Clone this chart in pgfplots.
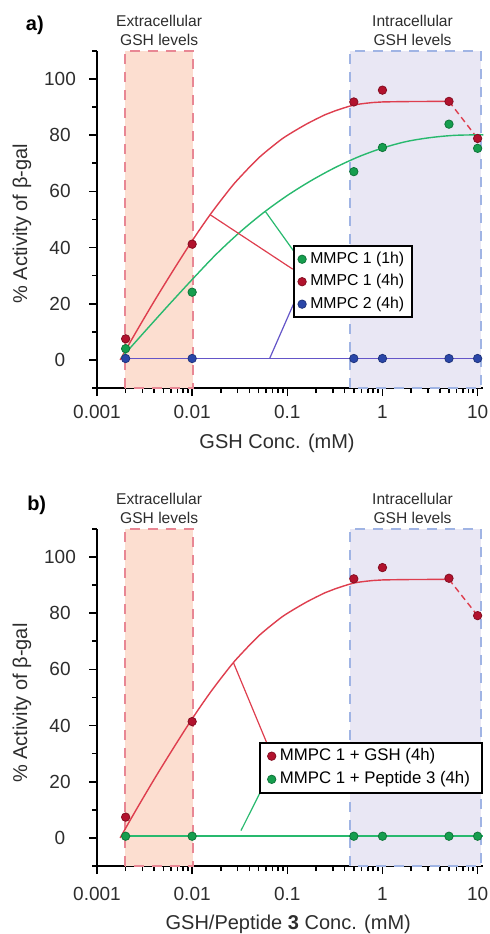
\documentclass[border=0pt]{standalone}
\usepackage{pgfplots}
\pgfplotsset{compat=1.18}
\usepackage{pgfplotstable}
\usepackage{fontspec}
\setmainfont{Liberation Sans}

\definecolor{redmk}{RGB}{178,18,45}
\definecolor{redln}{RGB}{222,62,78}
\definecolor{grnmk}{RGB}{22,158,78}
\definecolor{grnln}{RGB}{40,185,110}
\definecolor{blumk}{RGB}{42,70,168}
\definecolor{bluln}{RGB}{100,85,200}
\definecolor{extfill}{RGB}{252,222,208}
\definecolor{extedge}{RGB}{232,135,148}
\definecolor{intfill}{RGB}{233,231,244}
\definecolor{intedge}{RGB}{160,180,228}
\definecolor{txtgray}{RGB}{45,45,45}

% measured points
\pgfplotstableread{
x y
0.002 7.5
0.01 41.2
0.5 91.8
1 96
5 92
10 78.8
}\redpts
\pgfplotstableread{
x y
0.002 4
0.01 24.1
0.5 67
1 75.6
5 83.9
10 75.3
}\greenpts
\pgfplotstableread{
x y
0.002 0.5
0.01 0.5
0.5 0.5
1 0.5
5 0.5
10 0.5
}\bluepts

% fitted curves
\pgfplotstableread{
x y
0.00175 0
0.00251 9.3
0.00398 20.8
0.00631 31.8
0.01 42.4
0.01585 52.2
0.0251 61.0
0.0316 64.9
0.0501 71.9
0.0794 77.5
0.1 79.9
0.1585 83.9
0.2512 87.3
0.3162 88.6
0.5012 90.7
0.7943 91.6
1 91.8
2 91.95
5 92
}\redfit
\pgfplotstableread{
x y
0.0018 0.7
0.00316 10.0
0.00562 19.4
0.01 28.6
0.01778 37.5
0.0316 45.4
0.0562 52.4
0.1 58.5
0.178 63.8
0.316 68.4
0.562 72.3
1 75.4
1.778 77.7
3.162 79.1
5.623 79.9
10 80.1
11.5 80.1
}\greenfit

\tikzset{
  myregion/.style={font=\fontsize{7.8}{9.3}\selectfont, align=center,
    anchor=south, inner sep=0pt, yshift=2.5pt, text=txtgray},
}

\begin{document}
\begin{tikzpicture}
\path[use as bounding box] (-48.5pt,-273pt) rectangle (196pt,194pt);

% ---------------- panel a
\begin{axis}[
    scale only axis, width=193.2pt, height=168.6pt,
    at={(0pt,0pt)},
    xmode=log, xmin=0.001, xmax=11.5, ymin=-10, ymax=110,
    axis lines*=left,
    axis line style={black, line width=1pt},
    xtick={0.001,0.01,0.1,1,10},
    xticklabels={0.001,0.01,0.1,1,10},
    minor xtick={0.002,0.003,0.004,0.005,0.006,0.007,0.008,0.009,
      0.02,0.03,0.04,0.05,0.06,0.07,0.08,0.09,
      0.2,0.3,0.4,0.5,0.6,0.7,0.8,0.9,
      2,3,4,5,6,7,8,9},
    ytick={0,20,...,100},
    minor ytick={-10,10,30,50,70,90,110},
    tick align=outside,
    major tick length=4pt, minor tick length=2.5pt,
    tick style={black, line width=0.8pt},
    minor tick style={black, line width=0.8pt},
    /pgf/number format/assume math mode=true,
    tick label style={font=\fontsize{9.5}{11}\selectfont, text=txtgray},
    yticklabel style={anchor=center},
    yticklabel shift=14.5pt,
    xticklabel style={anchor=center},
    xticklabel shift=8pt,
    label style={font=\fontsize{10}{12}\selectfont, text=txtgray},
    clip=false,
    xlabel={GSH Conc. (mM)},
    ylabel={\% Activity of β-gal},
    xlabel style={at={(rel axis cs:0.466,-0.163)}, anchor=center},
    ylabel style={at={(rel axis cs:-0.194,0.487)}, anchor=center},
    legend cell align=left,
    legend style={at={(rel axis cs:0.507,0.424)}, anchor=north west,
      draw=black, line width=1pt, font=\fontsize{7.9}{9.6}\selectfont,
      inner xsep=2pt, inner ysep=1pt, row sep=0pt},
  ]
  \draw[extedge, fill=extfill, line width=1pt, dash pattern=on 5pt off 4pt]
    (axis cs:0.00197,-10) rectangle (axis cs:0.0103,110);
  \draw[intedge, fill=intfill, line width=1pt, dash pattern=on 5pt off 4pt]
    (axis cs:0.46,-10) rectangle (axis cs:10.8,110);
  \node[myregion] at (axis cs:0.0045,110) {Extracellular\\GSH levels};
  \node[myregion] at (axis cs:2.07,110) {Intracellular\\GSH levels};
  \node[font=\bfseries\fontsize{10}{12}\selectfont, yshift=12.5pt]
    at (rel axis cs:-0.161,1) {a)};

  \addplot[redln, line width=0.7pt, smooth, forget plot] table {\redfit};
  \addplot[redln, line width=0.7pt, densely dashed, forget plot] coordinates {(5,92) (10,78.8)};
  \addplot[grnln, line width=0.7pt, smooth, forget plot] table {\greenfit};
  \addplot[bluln, line width=0.7pt, forget plot] coordinates {(0.002,0.5) (10.8,0.5)};

  \draw[redln, line width=0.6pt] (axis cs:0.0154,51.7) -- (axis cs:0.114,32.3);
  \draw[grnln, line width=0.6pt] (axis cs:0.0586,52.9) -- (axis cs:0.118,38.5);
  \draw[bluln, line width=0.6pt] (axis cs:0.0652,0.5) -- (axis cs:0.118,20.4);

  \addplot[only marks, mark=*, mark size=2.1pt,
    mark options={fill=grnmk, draw=grnmk!75!black, line width=0.4pt}] table {\greenpts};
  \addplot[only marks, mark=*, mark size=2.1pt,
    mark options={fill=redmk, draw=redmk!75!black, line width=0.4pt}] table {\redpts};
  \addplot[only marks, mark=*, mark size=2.1pt,
    mark options={fill=blumk, draw=blumk!75!black, line width=0.4pt}] table {\bluepts};
  \legend{MMPC 1 (1h), MMPC 1 (4h), MMPC 2 (4h)}
\end{axis}

% ---------------- panel b
\begin{axis}[
    scale only axis, width=193.2pt, height=168.6pt,
    at={(0pt,-239pt)},
    xmode=log, xmin=0.001, xmax=11.5, ymin=-10, ymax=110,
    axis lines*=left,
    axis line style={black, line width=1pt},
    xtick={0.001,0.01,0.1,1,10},
    xticklabels={0.001,0.01,0.1,1,10},
    minor xtick={0.002,0.003,0.004,0.005,0.006,0.007,0.008,0.009,
      0.02,0.03,0.04,0.05,0.06,0.07,0.08,0.09,
      0.2,0.3,0.4,0.5,0.6,0.7,0.8,0.9,
      2,3,4,5,6,7,8,9},
    ytick={0,20,...,100},
    minor ytick={-10,10,30,50,70,90,110},
    tick align=outside,
    major tick length=4pt, minor tick length=2.5pt,
    tick style={black, line width=0.8pt},
    minor tick style={black, line width=0.8pt},
    /pgf/number format/assume math mode=true,
    tick label style={font=\fontsize{9.5}{11}\selectfont, text=txtgray},
    yticklabel style={anchor=center},
    yticklabel shift=14.5pt,
    xticklabel style={anchor=center},
    xticklabel shift=10pt,
    label style={font=\fontsize{10}{12}\selectfont, text=txtgray},
    clip=false,
    xlabel={GSH/Peptide \textbf{3} Conc. (mM)},
    ylabel={\% Activity of β-gal},
    xlabel style={at={(rel axis cs:0.495,-0.172)}, anchor=center},
    ylabel style={at={(rel axis cs:-0.194,0.483)}, anchor=center},
    legend cell align=left,
    legend style={at={(rel axis cs:0.418,0.369)}, anchor=north west,
      draw=black, line width=1pt, font=\fontsize{8.4}{10}\selectfont,
      inner xsep=4pt, inner ysep=1pt, row sep=0pt},
  ]
  \draw[extedge, fill=extfill, line width=1pt, dash pattern=on 5pt off 4pt]
    (axis cs:0.00197,-10) rectangle (axis cs:0.0103,110);
  \draw[intedge, fill=intfill, line width=1pt, dash pattern=on 5pt off 4pt]
    (axis cs:0.46,-10) rectangle (axis cs:10.8,110);
  \node[myregion] at (axis cs:0.0045,110) {Extracellular\\GSH levels};
  \node[myregion] at (axis cs:2.07,110) {Intracellular\\GSH levels};
  \node[font=\bfseries\fontsize{10}{12}\selectfont, yshift=11.5pt]
    at (rel axis cs:-0.156,1) {b)};

  \addplot[redln, line width=0.7pt, smooth, forget plot] table {\redfit};
  \addplot[redln, line width=0.7pt, densely dashed, forget plot] coordinates {(5,92) (10,79.1)};
  \addplot[grnln, line width=0.9pt, forget plot] coordinates {(0.002,0.6) (11.5,0.6)};

  \draw[redln, line width=0.6pt] (axis cs:0.0272,62.3) -- (axis cs:0.0614,33.5);
  \draw[grnln, line width=0.6pt] (axis cs:0.0326,2.6) -- (axis cs:0.0637,22.2);

  \addplot[only marks, mark=*, mark size=2.1pt,
    mark options={fill=redmk, draw=redmk!75!black, line width=0.4pt}]
    coordinates {(0.002,7.4) (0.01,41.4) (0.5,92.2) (1,96.2) (5,92.4) (10,79.1)};
  \addplot[only marks, mark=*, mark size=2.1pt,
    mark options={fill=grnmk, draw=grnmk!75!black, line width=0.4pt}]
    coordinates {(0.002,0.6) (0.01,0.6) (0.5,0.6) (1,0.6) (5,0.6) (10,0.6)};
  \legend{MMPC 1 + GSH (4h), MMPC 1 + Peptide 3 (4h)}
\end{axis}
\end{tikzpicture}
\end{document}
